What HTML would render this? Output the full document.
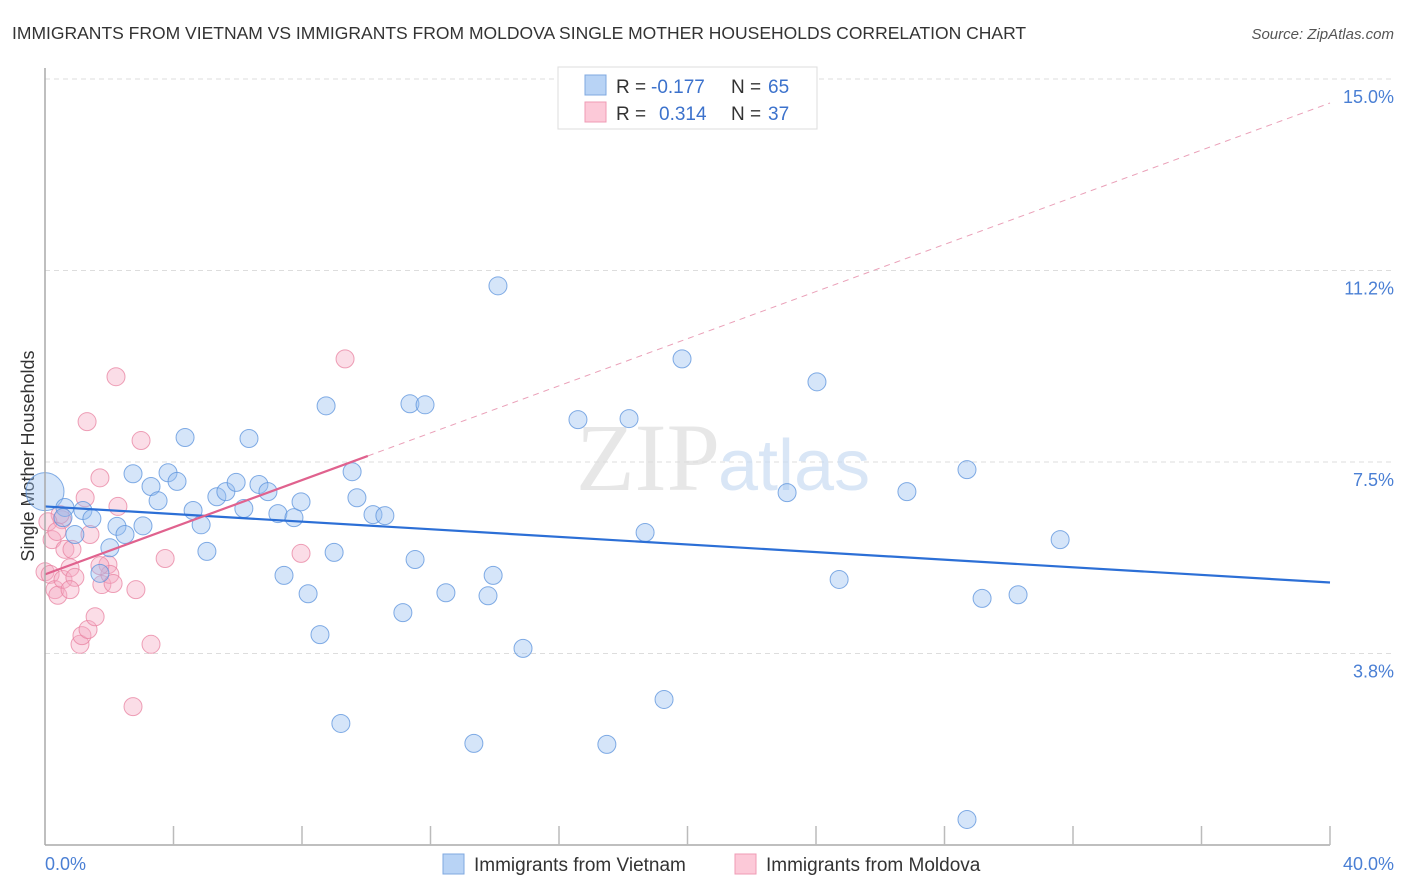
<!DOCTYPE html>
<html><head><meta charset="utf-8"><style>
body{margin:0;background:#fff;font-family:"Liberation Sans",sans-serif}
svg{display:block}
</style></head><body>
<svg id="chart" width="1406" height="892" xmlns="http://www.w3.org/2000/svg" font-family="Liberation Sans, sans-serif">
<text x="12" y="39" font-size="17.5" fill="#333">IMMIGRANTS FROM VIETNAM VS IMMIGRANTS FROM MOLDOVA SINGLE MOTHER HOUSEHOLDS CORRELATION CHART</text>
<text x="1394" y="39" font-size="15" fill="#555" font-style="italic" text-anchor="end">Source: ZipAtlas.com</text>
<text transform="translate(34,456) rotate(-90)" font-size="18" fill="#333" text-anchor="middle">Single Mother Households</text>
<g id="grid"></g>
<text x="720" y="490" font-size="96" font-family="Liberation Serif, serif" fill="#ddd" text-anchor="end" opacity="0.7">ZIP</text>
<text x="718" y="490" font-size="72" fill="#c9dcf3" opacity="0.7">atlas</text>
<g id="pts"></g>
<g id="lines"></g>
<line x1="45" y1="68" x2="45" y2="845" stroke="#aaa" stroke-width="1.5"/>
<line x1="45" y1="845" x2="1330" y2="845" stroke="#aaa" stroke-width="1.5"/>
<g id="ticks"></g>
<text x="45" y="870" font-size="18" fill="#4a7fd4">0.0%</text>
<text x="1394" y="870" font-size="18" fill="#4a7fd4" text-anchor="end">40.0%</text>
<g>
<rect x="558" y="67" width="259" height="62" fill="#fff" stroke="#ddd"/>
<rect x="585" y="75" width="21" height="20" fill="#b8d3f5" stroke="#7fa8e0"/>
<rect x="585" y="102" width="21" height="20" fill="#fcc9d8" stroke="#ef9bb5"/>
<text x="616" y="93" font-size="19" fill="#333">R =</text><text x="651" y="93" font-size="19" fill="#3c72cc">-0.177</text>
<text x="731" y="93" font-size="19" fill="#333">N =</text><text x="768" y="93" font-size="19" fill="#3c72cc">65</text>
<text x="616" y="120" font-size="19" fill="#333">R =</text><text x="659" y="120" font-size="19" fill="#3c72cc">0.314</text>
<text x="731" y="120" font-size="19" fill="#333">N =</text><text x="768" y="120" font-size="19" fill="#3c72cc">37</text>
</g>
<g>
<rect x="443" y="854" width="21" height="20" fill="#b8d3f5" stroke="#7fa8e0"/>
<text x="474" y="871" font-size="19" fill="#333">Immigrants from Vietnam</text></g>
<g>
<rect x="735" y="854" width="21" height="20" fill="#fcc9d8" stroke="#ef9bb5"/>
<text x="766" y="871" font-size="19" fill="#333">Immigrants from Moldova</text></g>
</svg>
<script>
const yTicks=[3.8,7.5,11.2,15.0];
const yTickVals=[3.75,7.5,11.25,15.0];
const blueX=[0,.62,1.18,1.46,.93,2.02,1.71,2.24,2.49,3.05,2.74,3.30,3.52,3.83,4.11,4.36,4.61,4.86,5.04,5.35,5.63,5.95,6.19,6.35,6.66,6.94,7.25,7.44,7.75,7.97,8.19,8.56,8.75,9.00,9.21,9.56,9.71,10.21,10.58,11.14,11.36,11.52,11.83,12.48,13.35,13.79,13.95,14.10,14.88,16.59,17.49,18.18,18.68,19.27,19.83,23.10,24.03,24.72,26.83,28.70,28.70,29.17,30.29,31.60,.56];
const blueY=[6.92,6.61,6.55,6.39,6.08,5.82,5.32,6.24,6.08,6.25,7.27,7.02,6.74,7.29,7.12,7.98,6.55,6.27,5.75,6.82,6.92,7.10,6.59,7.96,7.06,6.92,6.49,5.28,6.41,6.72,4.92,4.12,8.60,5.73,2.38,7.31,6.80,6.47,6.45,4.55,8.64,5.59,8.62,4.94,1.99,4.88,5.28,10.95,3.85,8.33,1.97,8.35,6.12,2.85,9.52,6.90,9.07,5.20,6.92,7.35,0.50,4.83,4.90,5.98,6.41];
const pinkX=[0,.16,.31,.40,.22,.53,.47,.62,.56,.78,.84,.93,1.09,1.15,1.34,1.25,1.31,1.40,1.56,1.71,1.77,1.96,2.02,2.12,2.21,2.27,2.83,2.99,3.30,2.74,3.74,7.97,9.34,.78,1.71,.09,.37];
const pinkY=[5.35,5.30,5.00,4.89,5.98,6.37,6.47,5.79,5.20,5.43,5.79,5.24,3.93,4.10,4.22,6.80,8.29,6.08,4.47,7.19,5.10,5.49,5.30,5.12,9.17,6.63,5.00,7.92,3.93,2.71,5.61,5.71,9.52,5.00,5.47,6.33,6.14];
const blueTrend=[6.63,5.14];
const pinkTrend=[5.30,14.53];
const pinkSolidEnd=10.05;
const NS='http://www.w3.org/2000/svg';
const xs=v=>45+v/40*1285;
const ys=v=>845-v/15*766;
function mk(tag,at,parent){const e=document.createElementNS(NS,tag);for(const k in at)e.setAttribute(k,at[k]);document.getElementById(parent).appendChild(e);return e;}
yTickVals.forEach((v,i)=>{
 const l=mk('line',{x1:45,x2:1394,y1:ys(v),y2:ys(v),stroke:'#ddd','stroke-dasharray':'5,4'},'grid');
 
 
 const t=mk('text',{x:1394,y:ys(v)+24,'font-size':18,fill:'#4a7fd4','text-anchor':'end'},'grid');
 
 
 t.textContent=yTicks[i].toFixed(1)+'%';
});
for(let i=1;i<=10;i++){
 const l=mk('line',{x1:xs(i*4),x2:xs(i*4),y1:826,y2:845,stroke:'#bbb','stroke-width':1.5},'ticks');
 
 
}
pinkX.forEach((x,i)=>{
 const c=mk('circle',{cx:xs(x),cy:ys(pinkY[i]),r:9,fill:'rgba(245,170,195,0.4)',stroke:'rgba(232,130,160,0.75)','stroke-width':1},'pts');
 
 
});
blueX.forEach((x,i)=>{
 const c=mk('circle',{cx:xs(x),cy:ys(blueY[i]),r:i===0?19:9,fill:'rgba(150,190,240,0.4)',stroke:'rgba(90,145,220,0.75)','stroke-width':1},'pts');
 
 
});
const pAt=x=>pinkTrend[0]+(pinkTrend[1]-pinkTrend[0])*x/40;
let l=mk('line',{x1:xs(0),y1:ys(blueTrend[0]),x2:xs(40),y2:ys(blueTrend[1]),stroke:'#2c6fd6','stroke-width':2.2},'lines');


l=mk('line',{x1:xs(0),y1:ys(pAt(0)),x2:xs(pinkSolidEnd),y2:ys(pAt(pinkSolidEnd)),stroke:'#e0628e','stroke-width':2.2},'lines');


l=mk('line',{x1:xs(pinkSolidEnd),y1:ys(pAt(pinkSolidEnd)),x2:xs(40),y2:ys(pAt(40)),stroke:'#eaa0b8','stroke-width':1,'stroke-dasharray':'6,5'},'lines');


</script>
</body></html>
